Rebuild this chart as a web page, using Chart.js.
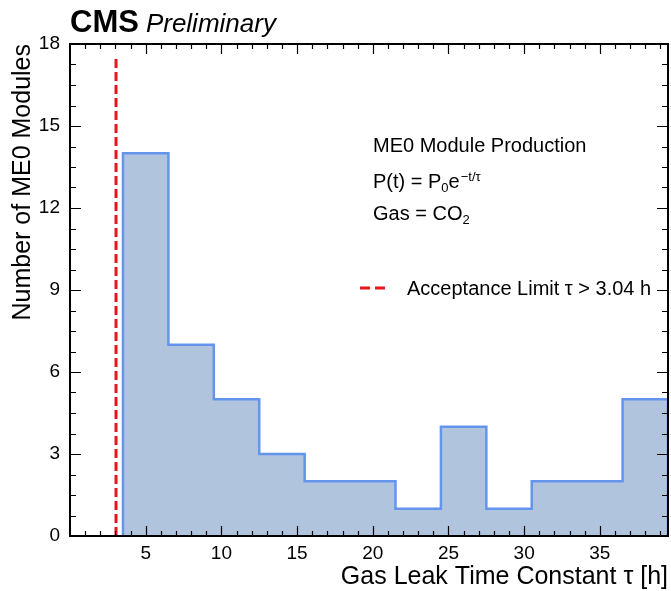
<!DOCTYPE html>
<html>
<head>
<meta charset="utf-8">
<script src="https://cdn.jsdelivr.net/npm/chart.js@4.4.0/dist/chart.umd.min.js"></script>
<style>
html, body { margin: 0; padding: 0; background: #fff; }
canvas { display: block; }
</style>
</head>
<body>
<canvas id="myChart" width="671" height="591"></canvas>
<script>
// histogram bins of the gas leak time constant [h] and module count per bin
var binEdges = [3.5, 6.5, 9.5, 12.5, 15.5, 18.5, 21.5, 24.5, 27.5, 30.5, 33.5, 36.5, 39.5];
var counts = [14, 7, 5, 3, 2, 2, 1, 4, 1, 2, 2, 5];
var xTicks = [5, 10, 15, 20, 25, 30, 35];
var yTicks = [0, 3, 6, 9, 12, 15, 18];
var tauLimit = 3.04;
var limitTop = 17.5;

var FONT = "'Liberation Sans', Arial, Helvetica, sans-serif";

// step outline of the histogram
var steps = [{x: binEdges[0], y: 0}];
for (var i = 0; i < counts.length; i++) {
    steps.push({x: binEdges[i], y: counts[i]});
    steps.push({x: binEdges[i + 1], y: counts[i]});
}
steps.push({x: binEdges[binEdges.length - 1], y: 0});

// frame with inward ticks on all four sides
var frame = {
    id: 'frame',
    afterDatasetsDraw: function (chart) {
        var ctx = chart.ctx, a = chart.chartArea;
        var xs = chart.scales.x, ys = chart.scales.y;
        ctx.save();
        ctx.strokeStyle = '#000';
        ctx.lineWidth = 1.2;
        ctx.beginPath();
        for (var v = 1; v < xs.max; v++) {
            var len = v % 5 === 0 ? 10 : 5;
            var px = Math.round(xs.getPixelForValue(v)) + 0.5;
            ctx.moveTo(px, a.bottom); ctx.lineTo(px, a.bottom - len);
            ctx.moveTo(px, a.top); ctx.lineTo(px, a.top + len);
        }
        for (var k = 1; k < 24; k++) {
            var val = k * 0.75;
            var len2 = k % 4 === 0 ? 11 : 6;
            var py = Math.round(ys.getPixelForValue(val)) + 0.5;
            ctx.moveTo(a.left, py); ctx.lineTo(a.left + len2, py);
            ctx.moveTo(a.right, py); ctx.lineTo(a.right - len2, py);
        }
        ctx.stroke();
        ctx.lineWidth = 2;
        ctx.strokeRect(a.left, a.top, a.right - a.left, a.bottom - a.top);
        ctx.restore();
    }
};

// draws text pieces one after another, with sub/superscripts
function runText(ctx, x, y, parts) {
    parts.forEach(function (p) {
        ctx.font = p.font;
        ctx.fillText(p.t, x, y + (p.dy || 0));
        x += ctx.measureText(p.t).width + (p.gap || 0);
    });
}

var labels = {
    id: 'labels',
    afterDraw: function (chart) {
        var ctx = chart.ctx, a = chart.chartArea;
        ctx.save();
        ctx.fillStyle = '#000';
        ctx.textBaseline = 'alphabetic';
        ctx.textAlign = 'left';

        runText(ctx, a.left, 32, [
            {t: 'CMS', font: 'bold 31px ' + FONT, gap: 7},
            {t: 'Preliminary', font: 'italic 26px ' + FONT}
        ]);

        var f = '20px ' + FONT, s = '13px ' + FONT;
        runText(ctx, 373, 152, [{t: 'ME0 Module Production', font: f}]);
        runText(ctx, 373, 188, [
            {t: 'P(t) = P', font: f},
            {t: '0', font: s, dy: 4},
            {t: 'e', font: f, gap: 1},
            {t: '\u2212t/\u03c4', font: s, dy: -7}
        ]);
        runText(ctx, 373, 220, [
            {t: 'Gas = CO', font: f},
            {t: '2', font: s, dy: 4}
        ]);

        // legend entry for the acceptance limit
        ctx.strokeStyle = '#e8161c';
        ctx.lineWidth = 3;
        ctx.setLineDash([10, 5]);
        ctx.beginPath();
        ctx.moveTo(360, 288);
        ctx.lineTo(387, 288);
        ctx.stroke();
        ctx.setLineDash([]);
        runText(ctx, 407, 295, [{t: 'Acceptance Limit \u03c4 > 3.04 h', font: f}]);
        ctx.restore();
    }
};

var totalChart = new Chart('myChart', {
    type: 'line',
    data: {
        datasets: [
            {
                data: steps,
                borderColor: '#6495ed',
                backgroundColor: '#b0c4de',
                borderWidth: 2.5,
                fill: 'origin',
                pointRadius: 0,
                tension: 0
            },
            {
                data: [{x: tauLimit, y: 0}, {x: tauLimit, y: limitTop}],
                borderColor: '#e8161c',
                borderWidth: 3,
                borderDash: [9, 4],
                fill: false,
                pointRadius: 0
            }
        ]
    },
    plugins: [frame, labels],
    options: {
        responsive: false,
        animation: false,
        devicePixelRatio: 1,
        layout: {padding: {top: 44, right: 3, left: 0, bottom: 0}},
        plugins: {legend: {display: false}, tooltip: {enabled: false}},
        scales: {
            x: {
                type: 'linear',
                min: 0,
                max: 39.5,
                afterBuildTicks: function (s) { s.ticks = xTicks.map(function (v) { return {value: v}; }); },
                afterFit: function (s) { s.height = 55; },
                grid: {display: false, drawTicks: false},
                border: {display: false},
                ticks: {color: '#000', font: {family: FONT, size: 19}, padding: 6, maxRotation: 0},
                title: {
                    display: true,
                    text: 'Gas Leak Time Constant \u03c4 [h]',
                    align: 'end',
                    color: '#000',
                    font: {family: FONT, size: 25},
                    padding: {top: 0, bottom: -1}
                }
            },
            y: {
                min: 0,
                max: 18,
                afterBuildTicks: function (s) { s.ticks = yTicks.map(function (v) { return {value: v}; }); },
                afterFit: function (s) { s.width = 70; },
                grid: {display: false, drawTicks: false},
                border: {display: false},
                ticks: {color: '#000', font: {family: FONT, size: 19}, padding: 10},
                title: {
                    display: true,
                    text: 'Number of ME0 Modules',
                    align: 'end',
                    color: '#000',
                    font: {family: FONT, size: 25},
                    padding: {top: 8, bottom: 0}
                }
            }
        }
    }
});
</script>
</body>
</html>
